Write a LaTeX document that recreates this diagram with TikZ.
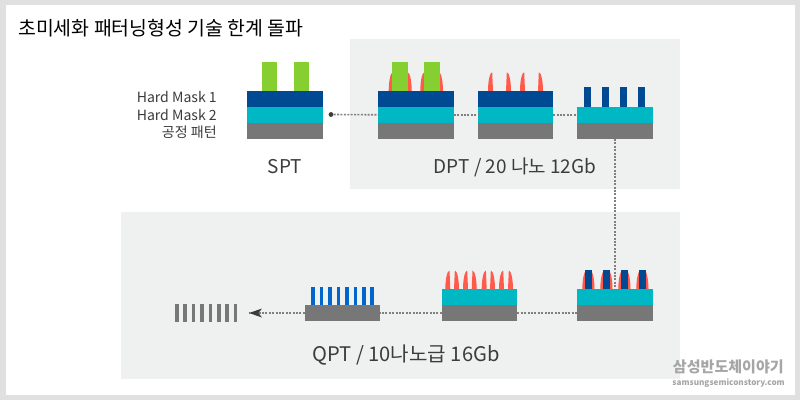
\documentclass[tikz,border=0pt]{standalone}
\usepackage{fontspec}
\setmainfont{Noto Sans CJK KR}
\usetikzlibrary{arrows.meta}
\definecolor{maskone}{HTML}{004A94}
\definecolor{masktwo}{HTML}{00B8C4}
\definecolor{basegray}{HTML}{777777}
\definecolor{resistgreen}{HTML}{85D030}
\definecolor{spacerred}{HTML}{FF5A4A}
\definecolor{finblue}{HTML}{0066CC}
\definecolor{panelgray}{HTML}{EFF1F1}
\definecolor{framegray}{HTML}{E0E0E0}
\definecolor{txtgray}{HTML}{3C3C3C}
\tikzset{
	layer/.style={rectangle, inner sep=0, outer sep=0, minimum width=1.885cm, minimum height=.4cm},
	bar/.style={rectangle, inner sep=0, outer sep=0},
	link/.style={color=gray, line width=.4mm, dash pattern=on .5mm off .35mm},
	caption/.style={font=\fontsize{13.5pt}{13.5pt}\selectfont, color=txtgray, inner sep=0},
	side/.style={font=\fontsize{10pt}{10pt}\selectfont, color=txtgray, anchor=east, inner sep=0},
	lspike/.pic={\fill[spacerred] (0,0) .. controls (0,-9) and (1.6,-18.5) .. (4.2,-18.8) -- (5,0) -- cycle;},
	rspike/.pic={\fill[spacerred] (5,0) .. controls (5,-9) and (3.4,-18.5) .. (.8,-18.8) -- (0,0) -- cycle;},
}
\begin{document}
\begin{tikzpicture}[x=.025cm, y=-.025cm]
	\useasboundingbox (0,0) rectangle (800,400);
	\fill[framegray] (0,0) rectangle (800,400);
	\fill[white] (5.5,5) rectangle (795,395);
	\fill[panelgray] (350,39) rectangle (680,189);
	\fill[panelgray] (121,212) rectangle (680,379);
	\node[font=\fontsize{13.8pt}{13.8pt}\selectfont, anchor=west, inner sep=0] (title) at (18,28) {초미세화 패터닝형성 기술 한계 돌파};
	% three layer stacks
	\foreach \name/\x in {spt/285,dpta/416,dptb/515.5} {
		\node[layer, fill=maskone] (\name one) at (\x,99) {};
		\node[layer, fill=masktwo] (\name two) at (\x,115) {};
		\node[layer, fill=basegray] (\name base) at (\x,131) {};
	}
	\node[layer, fill=masktwo] (dptctwo) at (615,115) {};
	\node[layer, fill=basegray] (dptcbase) at (615,131) {};
	\node[layer, fill=masktwo] (qptatwo) at (615,297) {};
	\node[layer, fill=basegray] (qptabase) at (615,313) {};
	\node[layer, fill=masktwo] (qptbtwo) at (479.5,297) {};
	\node[layer, fill=basegray] (qptbbase) at (479.5,313) {};
	\node[layer, fill=basegray] (qptcbase) at (342.5,313) {};
	% spacers
	\foreach \x in {388.7,420.3,488,520} \pic at (\x,91) {lspike};
	\foreach \x in {406.7,438,506,538} \pic at (\x,91) {rspike};
	\foreach \x in {445.3,463,481.7,499,582.3,600.3,618.3,636.3} \pic at (\x,289.3) {lspike};
	\foreach \x in {454,471.7,490,508,589.5,607.5,625.5,643.5} \pic at (\x,289.3) {rspike};
	% bars
	\foreach \i/\x in {a/269.5,b/301.5} \node[bar, fill=resistgreen, minimum width=.385cm, minimum height=.725cm] (spt\i) at (\x,76.5) {};
	\foreach \i/\x in {a/400,b/431.8} \node[bar, fill=resistgreen, minimum width=.385cm, minimum height=.725cm] (dpt\i) at (\x,76.5) {};
	\foreach \i/\x in {a/587.5,b/605.5,c/623.5,d/641.5} \node[bar, fill=maskone, minimum width=.17cm, minimum height=.5cm] (dptc\i) at (\x,97) {};
	\foreach \i/\x in {a/588.5,b/606.5,c/624.5,d/642.5} \node[bar, fill=maskone, minimum width=.17cm, minimum height=.475cm] (qpta\i) at (\x,279.7) {};
	\foreach \i in {0,...,7} \node[bar, fill=finblue, minimum width=.09cm, minimum height=.45cm] (fin\i) at ({313.2+8.43*\i},296) {};
	\foreach \i in {0,...,7} \node[bar, fill=basegray, minimum width=.09cm, minimum height=.45cm] (cut\i) at ({176.7+8.4*\i},313) {};
	% connectors
	\node[circle, fill=txtgray, inner sep=0, minimum size=.12cm] (sptdot) at (331,114.5) {};
	\coordinate (arrowend) at (249,313);
	\draw[link] (sptdot) -- (dptatwo);
	\draw[link] (dptatwo) -- (dptbtwo);
	\draw[link] (dptbtwo) -- (dptctwo);
	\draw[link] (dptcbase) -- (qptatwo.north);
	\draw[link] (qptabase) -- (qptbbase);
	\draw[link] (qptbbase) -- (qptcbase);
	\draw[link] (qptcbase) -- (arrowend);
	\fill[txtgray] (249,313) -- (262,308.5) -- (258.5,313) -- (262,317.5) -- cycle;
	% labels
	\node[side] (hmone) at (217,97) {Hard Mask 1};
	\node[side] (hmtwo) at (217,115) {Hard Mask 2};
	\node[side] (pattern) at (217,132) {공정 패턴};
	\node[caption] (spt) at (285,167) {SPT};
	\node[caption] (dpt) at (515,167) {DPT / 20 나노 12Gb};
	\node[caption, font=\fontsize{14.3pt}{14.3pt}\selectfont] (qpt) at (406,355) {QPT / 10나노급 16Gb};
	\node[font=\bfseries\fontsize{10.7pt}{10.7pt}\selectfont, color=gray!70, anchor=east, inner sep=0] (brand) at (784,367) {삼성반도체이야기};
	\node[font=\bfseries\fontsize{5.8pt}{5.8pt}\selectfont, color=gray!70, anchor=east, inner sep=0] (site) at (785,383) {samsungsemiconstory.com};
\end{tikzpicture}
\end{document}
